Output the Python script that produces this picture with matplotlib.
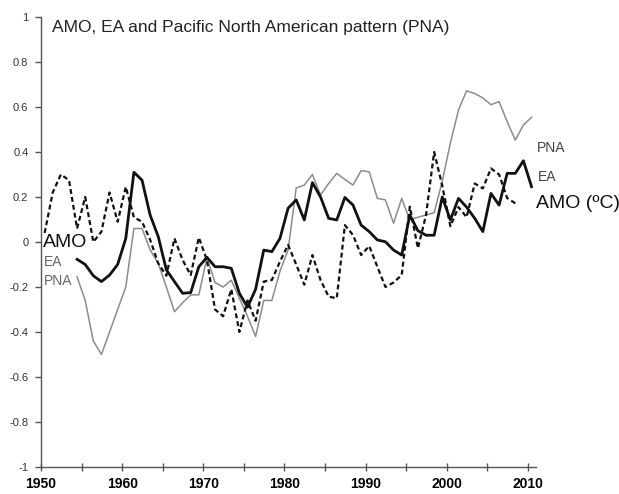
import numpy as np
import matplotlib
matplotlib.use("Agg")
import matplotlib.pyplot as plt
from matplotlib.ticker import MultipleLocator

plt.rcParams['font.family'] = ['Liberation Sans', 'DejaVu Sans']

# annual values
ea_years = np.arange(1950, 2009)
ea = [0.04, 0.22, 0.30, 0.275, 0.06, 0.20, 0.0, 0.046, 0.22, 0.09,
      0.245, 0.11, 0.09, 0.01, -0.095, -0.15, 0.016, -0.08, -0.147, 0.02,
      -0.08, -0.30, -0.33, -0.21, -0.40, -0.26, -0.35, -0.176, -0.169, -0.087,
      -0.013, -0.10, -0.19, -0.058, -0.169, -0.243, -0.25, 0.075, 0.031, -0.058,
      -0.018, -0.11, -0.20, -0.18, -0.147, 0.157, -0.028, 0.12, 0.40, 0.25,
      0.07, 0.155, 0.11, 0.26, 0.238, 0.327, 0.30, 0.195, 0.172]

amo_years = np.arange(1954, 2011)
amo = [-0.077, -0.10, -0.15, -0.176, -0.147, -0.10, 0.016, 0.31, 0.275, 0.12,
       0.024, -0.124, -0.176, -0.228, -0.225, -0.11, -0.068, -0.11, -0.11, -0.117,
       -0.228, -0.29, -0.21, -0.036, -0.043, 0.016, 0.15, 0.187, 0.098, 0.264,
       0.20, 0.105, 0.098, 0.198, 0.164, 0.075, 0.046, 0.009, 0.001, -0.036,
       -0.058, 0.12, 0.05, 0.03, 0.03, 0.20, 0.098, 0.194, 0.155, 0.105,
       0.046, 0.216, 0.164, 0.305, 0.305, 0.361, 0.246]

pna_years = np.arange(1954, 2011)
pna = [-0.155, -0.26, -0.44, -0.50, -0.40, -0.30, -0.20, 0.06, 0.06, -0.035,
       -0.095, -0.20, -0.31, -0.27, -0.235, -0.235, -0.07, -0.18, -0.20, -0.17,
       -0.25, -0.33, -0.42, -0.26, -0.26, -0.13, -0.036, 0.24, 0.253, 0.30,
       0.209, 0.26, 0.305, 0.278, 0.253, 0.317, 0.312, 0.194, 0.187, 0.083,
       0.194, 0.098, 0.11, 0.12, 0.13, 0.27, 0.44, 0.587, 0.672, 0.66,
       0.64, 0.61, 0.624, 0.535, 0.453, 0.52, 0.554]

fig = plt.figure(figsize=(6.19, 4.94), dpi=100)
ax = fig.add_axes([0.0662, 0.0547, 0.7997, 0.9109])

# points sit mid-year
ax.plot(pna_years + 0.45, pna, color='#8c8c8c', lw=1.1)
ax.plot(ea_years + 0.45, ea, color='#111111', lw=1.6, ls=(0, (2.2, 1.4)))
ax.plot(amo_years + 0.45, amo, color='#111111', lw=2.0)

ax.set_xlim(1950, 2011)
ax.set_ylim(-1, 1)
ax.xaxis.set_major_locator(MultipleLocator(10))
ax.xaxis.set_minor_locator(MultipleLocator(5))
ax.set_yticks(np.arange(-1, 1.01, 0.2))
ax.set_yticklabels(['-1', '-0.8', '-0.6', '-0.4', '-0.2', '0', '0.2', '0.4', '0.6', '0.8', '1'])

for s in ['top', 'right']:
    ax.spines[s].set_visible(False)
for s in ['left', 'bottom']:
    ax.spines[s].set_color('#555555')
    ax.spines[s].set_linewidth(1.0)

ax.tick_params(axis='y', direction='out', length=4, width=1, color='#555555',
               labelsize=8, labelcolor='#333333', pad=5)
ax.tick_params(axis='x', which='both', direction='inout', length=6, width=1,
               color='#555555', labelsize=10, pad=4)
for lab in ax.get_xticklabels():
    lab.set_fontweight('bold')

ax.text(1951.35, 0.955, 'AMO, EA and Pacific North American pattern (PNA)',
        fontsize=12.5, color='#222222', va='center', ha='left')

# left labels
ax.text(1950.3, -0.004, 'AMO', fontsize=14, color='#111111', va='center', ha='left')
ax.text(1950.4, -0.089, 'EA', fontsize=10, color='#666666', va='center', ha='left')
ax.text(1950.4, -0.175, 'PNA', fontsize=10, color='#666666', va='center', ha='left')

# right labels
ax.text(2011.05, 0.418, 'PNA', fontsize=10, color='#444444', va='center', ha='left')
ax.text(2011.2, 0.289, 'EA', fontsize=10, color='#444444', va='center', ha='left')
ax.text(2011.05, 0.171, 'AMO (ºC)', fontsize=14, color='#111111', va='center', ha='left')

fig.savefig('out.png', dpi=100)
